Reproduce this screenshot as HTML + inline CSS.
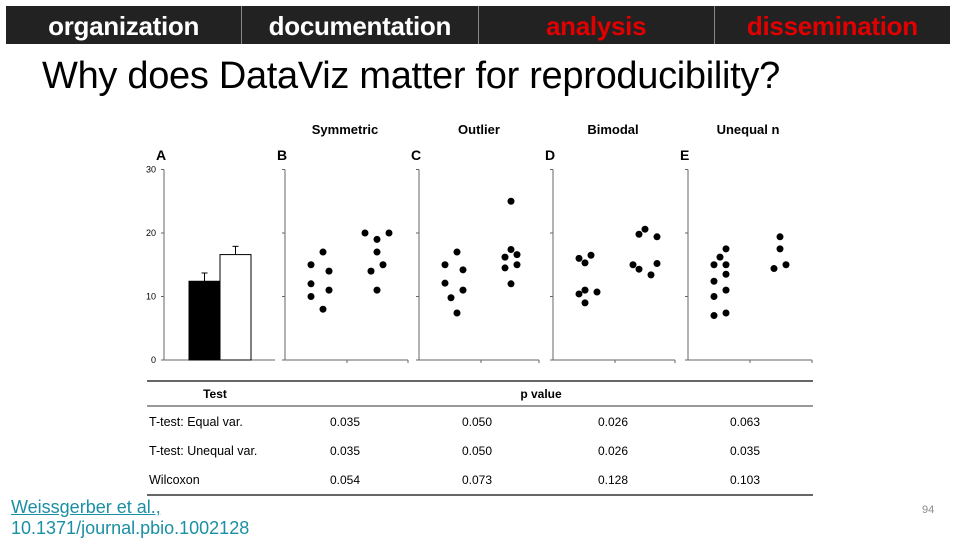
<!DOCTYPE html>
<html><head><meta charset="utf-8">
<style>
body{margin:0;width:960px;height:540px;background:#fff;overflow:hidden;position:relative;font-family:"Liberation Sans",Arial,sans-serif}
#nav{position:absolute;left:6px;top:6px;width:944px;height:38px;background:#222;display:flex}
.tab{flex:1;color:#fff;font-weight:bold;font-size:26px;text-align:center;line-height:40px;border-right:1px solid #888;letter-spacing:-0.3px}
.tab:last-child{border-right:none}
.red{color:#e00000}
#title{position:absolute;left:42px;top:55px;font-size:38px;color:#000;letter-spacing:-0.3px;white-space:nowrap}
#cite{position:absolute;left:11px;top:497px;font-size:18px;line-height:21px;color:#1b8fa3}
#cite span{text-decoration:underline}
#pg{position:absolute;left:922px;top:504px;font-size:11px;color:#888}
svg{position:absolute;left:0;top:0}
</style></head><body>
<div id="nav">
<div class="tab">organization</div>
<div class="tab">documentation</div>
<div class="tab red">analysis</div>
<div class="tab red">dissemination</div>
</div>
<div id="title">Why does DataViz matter for reproducibility?</div>
<svg id="chart" width="960" height="540"></svg>
<div id="cite"><span>Weissgerber et al.,</span><br>10.1371/journal.pbio.1002128</div>
<div id="pg">94</div>
<script>
const barValues=[12.4,16.6];
const barErrors=[1.3,1.3];
const panelTitles=["","Symmetric","Outlier","Bimodal","Unequal n"];
const panelLetters=["A","B","C","D","E"];
const yTicks=[0,10,20,30];
const symLeft=[17,15,14,12,11,10,8];
const symRight=[20,20,19,17,15,14,11];
const outLeft=[17,15,14.2,12.1,11,9.8,7.4];
const outRight=[25,17.4,16.6,16.2,15,14.5,12];
const bimLeft=[16.5,16,15.3,11,10.7,10.4,9];
const bimRight=[20.6,19.8,19.4,15.2,15,14.3,13.4];
const uneLeft=[17.5,16.2,15,15,13.5,12.4,11,10,7.4,7];
const uneRight=[19.4,17.5,15,14.4];
const symJit=[1,-1,2,-1,2,-1,1];const symJitR=[-2,2,0,0,1,-1,0];
const outJit=[1,-1,2,-1,2,0,1];const outJitR=[0,0,1,-1,1,-1,0];
const bimJit=[1,-1,0,0,2,-1,0];const bimJitR=[0,-1,2,2,-2,-1,1];
const uneJit=[1,0,-1,1,1,-1,1,-1,1,-1];const uneJitR=[0,0,1,-1];
const tableRows=["T-test: Equal var.","T-test: Unequal var.","Wilcoxon"];
const pValues=[["0.035","0.050","0.026","0.063"],["0.035","0.050","0.026","0.035"],["0.054","0.073","0.128","0.103"]];

const svg=document.getElementById('chart');
const NS='http://www.w3.org/2000/svg';
function mk(tag,attrs,txt){const e=document.createElementNS(NS,tag);for(const k in attrs)e.setAttribute(k,attrs[k]);if(txt!=null)e.textContent=txt;svg.appendChild(e);return e;}
const y=v=>360-v*6.35;
const axisX=[164,285,419,553,688];
const panelW=[111,123,120,122,124];
for(let i=0;i<5;i++){
  const ax=axisX[i];
  let e=mk('line',{x1:ax,y1:y(30),x2:ax,y2:y(0),stroke:'#666','stroke-width':1});
  
  e=mk('line',{x1:ax-3,y1:y(0),x2:ax+panelW[i],y2:y(0),stroke:'#666','stroke-width':1});
  
  yTicks.forEach(t=>{mk('line',{x1:ax-3,y1:y(t),x2:ax,y2:y(t),stroke:'#666'});});
  if(i>0){mk('line',{x1:ax+62,y1:y(0),x2:ax+62,y2:y(0)+3,stroke:'#666'});mk('line',{x1:ax+panelW[i],y1:y(0),x2:ax+panelW[i],y2:y(0)+3,stroke:'#666'});}
  e=mk('text',{x:ax-8,y:160,'font-size':14,'font-weight':'bold'},panelLetters[i]);
  
  if(panelTitles[i]){e=mk('text',{x:ax+60,y:134,'font-size':13,'font-weight':'bold','text-anchor':'middle'},panelTitles[i]);
  }
}
yTicks.forEach(t=>{const e=mk('text',{x:156,y:y(t)+3,'font-size':9,'text-anchor':'end'},t);
});
const barX=[189,220];
barValues.forEach((v,i)=>{
  let e=mk('rect',{x:barX[i],y:y(v),width:31,height:y(0)-y(v),fill:i?'#fff':'#000',stroke:'#000','stroke-width':1});
  
  const cx=barX[i]+15.5;
  mk('line',{x1:cx,y1:y(v),x2:cx,y2:y(v+barErrors[i]),stroke:'#000'});
  mk('line',{x1:cx-3,y1:y(v+barErrors[i]),x2:cx+3,y2:y(v+barErrors[i]),stroke:'#000'});
});
const sets=[[symLeft,symJit,symRight,symJitR],[outLeft,outJit,outRight,outJitR],[bimLeft,bimJit,bimRight,bimJitR],[uneLeft,uneJit,uneRight,uneJitR]];
sets.forEach((s,pi)=>{
  const ax=axisX[pi+1];
  [[s[0],s[1],ax+32],[s[2],s[3],ax+92]].forEach(([vals,jit,cx])=>{
    vals.forEach((v,k)=>{const e=mk('circle',{cx:cx+jit[k]*6,cy:y(v),r:3.5,fill:'#000'});
    });
  });
});
mk('line',{x1:147,y1:381,x2:813,y2:381,stroke:'#333','stroke-width':1.5});
mk('line',{x1:147,y1:406,x2:813,y2:406,stroke:'#333','stroke-width':1});
mk('line',{x1:147,y1:495,x2:813,y2:495,stroke:'#333','stroke-width':1.5});
let h=mk('text',{x:215,y:398,'font-size':12,'font-weight':'bold','text-anchor':'middle'},'Test');

h=mk('text',{x:541,y:398,'font-size':12,'font-weight':'bold','text-anchor':'middle'},'p value');

const colX=[345,477,613,745];const rowY=[426,455,484];
tableRows.forEach((r,i)=>{
  let e=mk('text',{x:149,y:rowY[i],'font-size':12.5},r);
  
  pValues[i].forEach((p,j)=>{const c=mk('text',{x:colX[j],y:rowY[i],'font-size':12,'text-anchor':'middle'},p);
  });
});
</script>
</body></html>
